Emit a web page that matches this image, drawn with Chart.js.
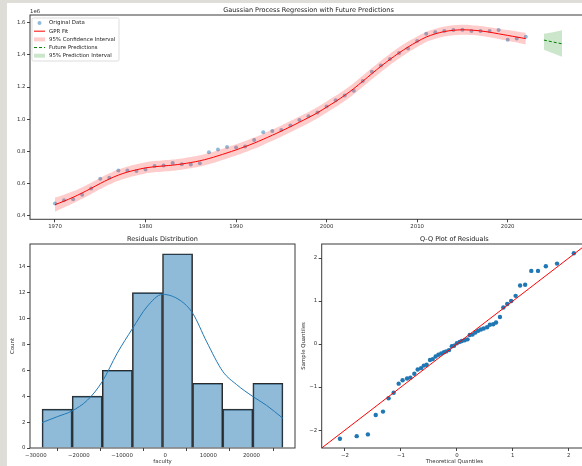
<!DOCTYPE html>
<html lang="en">
<head>
<meta charset="UTF-8">
<title>Gaussian Process Regression with Future Predictions</title>
<script src="https://cdn.jsdelivr.net/npm/chart.js"></script>
<style>
  html, body { margin: 0; padding: 0; }
  body { width: 582px; height: 466px; overflow: hidden; background: #deddd8; position: relative; }
  #sheet { position: absolute; left: 7px; top: 3px; width: 600px; height: 470px; background: #fff; }
  canvas { position: absolute; }
  #gpr { left: 0; top: 0; }
  #hist { left: 0; top: 230px; }
  #qq { left: 290px; top: 230px; }
</style>
</head>
<body>
<div id="sheet"></div>
<canvas id="gpr" width="600" height="232"></canvas>
<canvas id="hist" width="300" height="236"></canvas>
<canvas id="qq" width="310" height="236"></canvas>
<script>
// ---- top panel: values in units of 1e6 ----
const years = [1970, 1971, 1972, 1973, 1974, 1975, 1976, 1977, 1978, 1979,
  1980, 1981, 1982, 1983, 1984, 1985, 1986, 1987, 1988, 1989,
  1990, 1991, 1992, 1993, 1994, 1995, 1996, 1997, 1998, 1999,
  2000, 2001, 2002, 2003, 2004, 2005, 2006, 2007, 2008, 2009,
  2010, 2011, 2012, 2013, 2014, 2015, 2016, 2017, 2018, 2019,
  2020, 2021, 2022];
const observed = [0.476, 0.495, 0.501, 0.530, 0.568, 0.630, 0.636, 0.680, 0.680, 0.678,
  0.687, 0.709, 0.711, 0.728, 0.720, 0.718, 0.726, 0.794, 0.811, 0.827,
  0.824, 0.830, 0.871, 0.919, 0.927, 0.933, 0.961, 0.994, 1.018, 1.041,
  1.079, 1.118, 1.147, 1.176, 1.237, 1.295, 1.334, 1.374, 1.411, 1.440,
  1.486, 1.531, 1.540, 1.548, 1.554, 1.556, 1.548, 1.548, 1.548, 1.554,
  1.494, 1.502, 1.513];
const gprFit = [0.468, 0.490, 0.514, 0.541, 0.570, 0.600, 0.628, 0.652, 0.671, 0.685,
  0.697, 0.704, 0.709, 0.714, 0.721, 0.730, 0.741, 0.755, 0.772, 0.790,
  0.809, 0.829, 0.851, 0.875, 0.900, 0.926, 0.953, 0.981, 1.010, 1.040,
  1.075, 1.110, 1.148, 1.190, 1.236, 1.283, 1.329, 1.372, 1.412, 1.449,
  1.482, 1.511, 1.531, 1.545, 1.553, 1.556, 1.554, 1.549, 1.541, 1.531,
  1.521, 1.511, 1.501];
const ciLower = [0.424, 0.450, 0.477, 0.505, 0.535, 0.565, 0.593, 0.617, 0.636, 0.650,
  0.662, 0.669, 0.674, 0.679, 0.686, 0.695, 0.706, 0.720, 0.737, 0.755,
  0.774, 0.794, 0.816, 0.840, 0.865, 0.891, 0.918, 0.946, 0.975, 1.005,
  1.040, 1.075, 1.113, 1.155, 1.201, 1.248, 1.294, 1.337, 1.377, 1.415,
  1.449, 1.480, 1.500, 1.514, 1.522, 1.525, 1.523, 1.518, 1.510, 1.499,
  1.488, 1.477, 1.465];
const ciUpper = [0.512, 0.530, 0.551, 0.577, 0.605, 0.635, 0.663, 0.687, 0.706, 0.720,
  0.732, 0.739, 0.744, 0.749, 0.756, 0.765, 0.776, 0.790, 0.807, 0.825,
  0.844, 0.864, 0.886, 0.910, 0.935, 0.961, 0.988, 1.016, 1.045, 1.075,
  1.110, 1.145, 1.183, 1.225, 1.271, 1.318, 1.364, 1.407, 1.447, 1.483,
  1.515, 1.542, 1.562, 1.576, 1.584, 1.587, 1.585, 1.580, 1.572, 1.563,
  1.554, 1.545, 1.537];
const futureYears = [2024, 2025, 2026];
const futurePred = [1.492, 1.480, 1.469];
const piLower = [1.432, 1.410, 1.388];
const piUpper = [1.531, 1.541, 1.553];
const gprXTicks = [1970, 1980, 1990, 2000, 2010, 2020];
const gprYTicks = [0.4, 0.6, 0.8, 1.0, 1.2, 1.4, 1.6];

// ---- residual histogram ----
const binEdges = [-28540, -21560, -14580, -7600, -620, 6360, 13340, 20320, 27300];
const binCounts = [3, 4, 6, 12, 15, 5, 3, 5];
const kdeX = [-28540, -25000, -21600, -18000, -14600, -11150, -7540, -4230, -600,
  3460, 6380, 9620, 13380, 16540, 20380, 23460, 27300];
const kdeY = [1.96, 2.42, 2.86, 3.70, 5.12, 7.30, 9.24, 10.90, 11.86,
  11.40, 10.40, 8.20, 5.90, 4.90, 3.96, 3.30, 2.29];
const histXTicks = [-30000, -20000, -10000, 0, 10000, 20000];
const histYTicks = [0, 2, 4, 6, 8, 10, 12, 14];

// ---- Q-Q plot ----
const qqTheoretical = [-2.09, -1.79, -1.59, -1.45, -1.32, -1.22, -1.13, -1.04, -0.97, -0.89,
  -0.83, -0.76, -0.70, -0.64, -0.59, -0.54, -0.48, -0.43, -0.38, -0.33,
  -0.28, -0.23, -0.19, -0.14, -0.09, -0.05, 0.00, 0.05, 0.09, 0.14,
  0.19, 0.23, 0.28, 0.33, 0.38, 0.43, 0.48, 0.54, 0.59, 0.65,
  0.70, 0.77, 0.83, 0.90, 0.97, 1.05, 1.13, 1.22, 1.33, 1.45,
  1.59, 1.79, 2.09];
const qqSample = [-2.20, -2.14, -2.10, -1.65, -1.57, -1.26, -1.13, -0.92, -0.84, -0.80,
  -0.78, -0.69, -0.59, -0.56, -0.50, -0.48, -0.37, -0.35, -0.29, -0.25,
  -0.22, -0.19, -0.17, -0.14, -0.05, -0.04, 0.02, 0.05, 0.07, 0.09,
  0.11, 0.21, 0.22, 0.27, 0.31, 0.34, 0.36, 0.39, 0.45, 0.46,
  0.50, 0.63, 0.85, 0.93, 1.00, 1.12, 1.36, 1.38, 1.70, 1.70,
  1.81, 1.87, 2.11];
const qqLineEnds = [-2.4155, 2.3255];
const qqTicks = [-2, -1, 0, 1, 2];

const FONT = 'DejaVu Sans';
const C0 = '#1f77b4';
const minus = v => String(v).replace('-', '\u2212');
const pts = (xs, ys) => xs.map((x, i) => ({x: x, y: ys[i]}));

// matplotlib style frame round the plot area, plus optional offset text
const frame = {
  id: 'frame',
  afterDatasetsDraw(chart, args, opts) {
    const a = chart.chartArea, ctx = chart.ctx;
    ctx.save();
    ctx.strokeStyle = '#3a3a3a';
    ctx.lineWidth = 1;
    ctx.strokeRect(a.left, a.top, a.right - a.left, a.bottom - a.top);
    if (opts.offsetText) {
      ctx.font = '5.4px "' + FONT + '"';
      ctx.fillStyle = '#333';
      ctx.textAlign = 'left';
      ctx.textBaseline = 'middle';
      ctx.fillText(opts.offsetText, a.left, a.top - 3.5);
    }
    ctx.restore();
  }
};

// legend box in the upper left corner of the plot
const boxLegend = {
  id: 'boxLegend',
  afterDraw(chart, args, opts) {
    if (!opts.show) return;
    const ctx = chart.ctx, a = chart.chartArea;
    const items = chart.data.datasets.filter(d => d.legendKind);
    const x0 = a.left + 2, y0 = a.top + 3, rowH = 8.18;
    ctx.save();
    ctx.fillStyle = 'rgba(255,255,255,0.8)';
    ctx.strokeStyle = '#d4d4d4';
    ctx.lineWidth = 0.8;
    ctx.beginPath();
    ctx.roundRect(x0, y0, 87, 43, 1.5);
    ctx.fill();
    ctx.stroke();
    ctx.font = '5.4px "' + FONT + '"';
    ctx.textBaseline = 'middle';
    items.forEach((d, i) => {
      const cy = y0 + 5 + i * rowH, hx = x0 + 2;
      if (d.legendKind === 'marker') {
        ctx.fillStyle = d.backgroundColor;
        ctx.beginPath();
        ctx.arc(hx + 5.5, cy, 2, 0, Math.PI * 2);
        ctx.fill();
      } else if (d.legendKind === 'line') {
        ctx.strokeStyle = d.borderColor;
        ctx.lineWidth = d.borderWidth;
        ctx.setLineDash(d.borderDash || []);
        ctx.beginPath();
        ctx.moveTo(hx, cy);
        ctx.lineTo(hx + 11, cy);
        ctx.stroke();
        ctx.setLineDash([]);
      } else {
        ctx.fillStyle = d.backgroundColor;
        ctx.fillRect(hx, cy - 2, 11, 4);
      }
      ctx.fillStyle = '#222';
      ctx.fillText(d.label, x0 + 17, cy);
    });
    ctx.restore();
  }
};

Chart.register(frame, boxLegend);
Chart.defaults.font.family = FONT;
Chart.defaults.color = '#333';
Chart.defaults.animation = false;
Chart.defaults.responsive = false;
Chart.defaults.plugins.legend.display = false;
Chart.defaults.plugins.tooltip.enabled = false;

function axis(min, max, ticks, fmt, fit, title) {
  return {
    type: 'linear', min: min, max: max, offset: false,
    grid: {drawOnChartArea: false, drawTicks: true, tickLength: 3, color: '#444'},
    border: {display: false},
    ticks: {font: {size: 5.4}, padding: 1.5, autoSkip: false, maxRotation: 0, callback: fmt},
    afterBuildTicks: s => { s.ticks = ticks.map(v => ({value: v})); },
    afterFit: fit,
    title: title || {display: false}
  };
}

function panelTitle(text, padTop, padBottom) {
  return {display: true, text: text, fullSize: false, color: '#222',
    font: {size: 6.5, weight: 'normal'}, padding: {top: padTop, bottom: padBottom}};
}

new Chart(document.getElementById('gpr'), {
  type: 'line',
  data: {
    datasets: [
      {label: 'Original Data', legendKind: 'marker', data: pts(years, observed), showLine: false,
        pointRadius: 2, pointBorderWidth: 0, backgroundColor: 'rgba(31,119,180,0.5)',
        pointBackgroundColor: 'rgba(31,119,180,0.5)', order: 3},
      {label: 'GPR Fit', legendKind: 'line', data: pts(years, gprFit), borderColor: '#ff0000',
        borderWidth: 1, pointRadius: 0, tension: 0.3, order: 2},
      {label: 'ci upper', data: pts(years, ciUpper), borderWidth: 0, pointRadius: 0,
        tension: 0.3, fill: false, order: 1},
      {label: '95% Confidence Interval', legendKind: 'patch', data: pts(years, ciLower),
        borderWidth: 0, pointRadius: 0, tension: 0.3, fill: '-1',
        backgroundColor: 'rgba(255,0,0,0.2)', order: 0},
      {label: 'Future Predictions', legendKind: 'line', data: pts(futureYears, futurePred),
        borderColor: '#008000', borderWidth: 1, borderDash: [3, 2], pointRadius: 0, order: 1},
      {label: 'pi upper', data: pts(futureYears, piUpper), borderWidth: 0, pointRadius: 0,
        fill: false, order: 1},
      {label: '95% Prediction Interval', legendKind: 'patch', data: pts(futureYears, piLower),
        borderWidth: 0, pointRadius: 0, fill: '-1', backgroundColor: 'rgba(0,128,0,0.2)', order: 0}
    ]
  },
  options: {
    layout: {padding: {left: 0, right: 13, top: 0, bottom: 0}},
    scales: {
      x: axis(1967.24, 2028.76, gprXTicks, v => String(v), s => { s.height = 12.7; }),
      y: axis(0.377, 1.648, gprYTicks, v => v.toFixed(1), s => { s.width = 30; })
    },
    plugins: {
      title: panelTitle('Gaussian Process Regression with Future Predictions', 6.1, 1.1),
      frame: {offsetText: '1e6'},
      boxLegend: {show: true}
    }
  }
});

const binCenters = binCounts.map((c, i) => (binEdges[i] + binEdges[i + 1]) / 2);

new Chart(document.getElementById('hist'), {
  data: {
    datasets: [
      {type: 'line', data: pts(kdeX, kdeY), borderColor: C0, borderWidth: 1, pointRadius: 0,
        tension: 0.4, cubicInterpolationMode: 'monotone', order: 0},
      {type: 'bar', data: pts(binCenters, binCounts), backgroundColor: 'rgba(31,119,180,0.5)',
        borderColor: '#2a2a2a', borderWidth: 1, barPercentage: 1, categoryPercentage: 1, order: 1}
    ]
  },
  options: {
    layout: {padding: {left: 0, right: 5, top: 0, bottom: 0}},
    scales: {
      x: axis(-31330, 30090, histXTicks, minus, s => { s.height = 18; },
        {display: true, text: 'faculty', font: {size: 5.4}, padding: {top: 0, bottom: 0.8}}),
      y: axis(0, 15.75, histYTicks, v => String(v), s => { s.width = 30; },
        {display: true, text: 'Count', font: {size: 5.4}, padding: {top: 9.8, bottom: 0}})
    },
    plugins: {
      title: panelTitle('Residuals Distribution', 5.1, 1.1)
    }
  }
});

new Chart(document.getElementById('qq'), {
  type: 'scatter',
  data: {
    datasets: [
      {data: pts(qqTheoretical, qqSample), pointRadius: 2.2, pointBorderWidth: 0,
        pointBackgroundColor: C0, order: 1},
      {type: 'line', data: pts(qqLineEnds, qqLineEnds), borderColor: '#ff0000', borderWidth: 1,
        pointRadius: 0, order: 0}
    ]
  },
  options: {
    layout: {padding: {left: 0, right: 13, top: 0, bottom: 0}},
    scales: {
      x: axis(-2.4155, 2.3255, qqTicks, minus, s => { s.height = 18; },
        {display: true, text: 'Theoretical Quantiles', font: {size: 5.4}, padding: {top: 0, bottom: 0.8}}),
      y: axis(-2.4155, 2.3255, qqTicks, minus, s => { s.width = 31.7; },
        {display: true, text: 'Sample Quantiles', font: {size: 5.4}, padding: {top: 10.8, bottom: 0}})
    },
    plugins: {
      title: panelTitle('Q-Q Plot of Residuals', 5.1, 1.1)
    }
  }
});
</script>
</body>
</html>
